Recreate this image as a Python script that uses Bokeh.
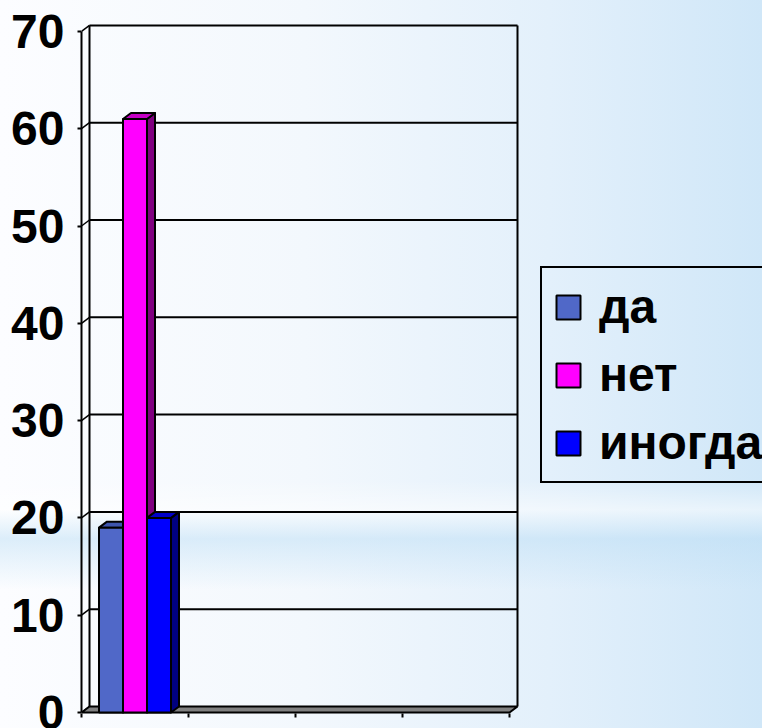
from bokeh.plotting import figure
from bokeh.models import Legend, LegendItem, FixedTicker, Range1d
from bokeh.embed import file_html
from bokeh.resources import INLINE

# ---- data ----
n_slots = 4                       # category slots on the x axis (only first is filled)
series_names = ["да", "нет", "иногда"]
da_values = [19]
net_values = [61]
inogda_values = [20]
y_ticks = [0, 10, 20, 30, 40, 50, 60, 70]
y_max = 70

# ---- style ----
FRONT = ["#5068C8", "#FF00FF", "#0000FF"]
TOP = ["#3E55AE", "#C400C4", "#0000C8"]
SIDE = ["#2B3B86", "#800080", "#000080"]
PX_PER_SLOT = 107.0
PX_PER_UNIT = 9.73
DEPTH_X_PX, DEPTH_Y_PX = 8.0, 6.0
BAR_PX = 24.0
W, H = 762, 728
LEFT, TOP_B, BOTTOM = 81, 23, 13

dx = DEPTH_X_PX / PX_PER_SLOT
dy = DEPTH_Y_PX / PX_PER_UNIT
bar_w = BAR_PX / PX_PER_SLOT

frame_w = W - LEFT
frame_h = H - TOP_B - BOTTOM
x_end = frame_w / PX_PER_SLOT
y_start = -3 / PX_PER_UNIT
y_end = y_start + frame_h / PX_PER_UNIT

p = figure(frame_width=frame_w, frame_height=frame_h,
           x_range=Range1d(0, x_end), y_range=Range1d(y_start, y_end),
           output_backend="svg", toolbar_location=None,
           min_border_left=LEFT, min_border_right=0, min_border_top=TOP_B, min_border_bottom=BOTTOM)
p.background_fill_alpha = 0
p.border_fill_alpha = 0
p.outline_line_color = None
p.xgrid.visible = False
p.ygrid.visible = False

FONT = "Liberation Sans"

# y axis (front edge)
ya = p.yaxis[0]
ya.ticker = FixedTicker(ticks=y_ticks)
ya.bounds = (0, y_max)
ya.axis_line_width = 2
ya.axis_line_color = "black"
ya.major_tick_out = 4
ya.major_tick_in = 0
ya.major_tick_line_width = 2
ya.minor_tick_line_color = None
ya.major_label_text_font = FONT
ya.major_label_text_font_style = "bold"
ya.major_label_text_font_size = "48px"
ya.major_label_text_color = "black"
ya.major_label_standoff = 13

# x axis (only ticks, no labels)
xa = p.xaxis[0]
slot_edges = list(range(n_slots + 1))
xa.ticker = FixedTicker(ticks=slot_edges)
xa.bounds = (0, n_slots)
xa.axis_line_color = None
xa.major_tick_out = 2
xa.major_tick_in = 2
xa.major_tick_line_width = 2
xa.minor_tick_line_color = None
xa.major_label_overrides = {t: "" for t in slot_edges}
xa.major_label_standoff = 0

# back wall gridlines
grid_ticks = [t for t in y_ticks if t > 0]
p.segment(x0=[dx] * len(grid_ticks), x1=[n_slots + dx] * len(grid_ticks),
          y0=[t + dy for t in grid_ticks], y1=[t + dy for t in grid_ticks],
          line_color="black", line_width=2)
# side wall diagonals
p.segment(x0=[0] * len(y_ticks), x1=[dx] * len(y_ticks),
          y0=y_ticks, y1=[t + dy for t in y_ticks],
          line_color="black", line_width=1.5)
# back wall verticals
p.segment(x0=[dx, n_slots + dx], x1=[dx, n_slots + dx],
          y0=[dy, dy], y1=[y_max + dy, y_max + dy],
          line_color="black", line_width=2)
# floor
p.patch([0, n_slots, n_slots + dx, dx], [0, 0, dy, dy],
        fill_color="#808080", line_color="black", line_width=2)

values = [da_values[0], net_values[0], inogda_values[0]]
items = []
center = 0.5
for i, (name, v) in enumerate(zip(series_names, values)):
    xc = center + (i - 1) * bar_w
    l, r = xc - bar_w / 2, xc + bar_w / 2
    p.patch([r, r + dx, r + dx, r], [0, dy, v + dy, v],
            fill_color=SIDE[i], line_color="black", line_width=2, line_join="round")
    p.patch([l, l + dx, r + dx, r], [v, v + dy, v + dy, v],
            fill_color=TOP[i], line_color="black", line_width=2, line_join="round")
    rr = p.quad(left=[l], right=[r], bottom=[0], top=[v],
                fill_color=FRONT[i], line_color="black", line_width=2)
    items.append(LegendItem(label=name, renderers=[rr]))

legend = Legend(items=items, location=(540 - LEFT, 232))
legend.border_line_color = "black"
legend.border_line_alpha = 1.0
legend.border_line_width = 2
legend.background_fill_alpha = 0
legend.label_text_font = FONT
legend.label_text_font_style = "bold"
legend.label_text_font_size = "48px"
legend.label_text_color = "black"
legend.glyph_width = 30
legend.glyph_height = 30
legend.label_standoff = 16
legend.padding = 11
legend.spacing = 13
legend.margin = 0
p.add_layout(legend)

html = file_html(p, INLINE, title="chart")
css = """<style>
html { height: 100%; overflow: hidden; }
body { min-height: 100%; margin: 0; overflow: hidden;
  background:
    linear-gradient(180deg, rgba(255,255,255,0) 0%, rgba(255,255,255,0) 66%,
        rgba(255,255,255,0.5) 70%, rgba(188,222,245,0.5) 74%, rgba(255,255,255,0) 81%, rgba(255,255,255,0) 100%),
    linear-gradient(90deg, #fcfdff 0%, #f3f8fd 40%, #e3f0fb 72%, #d0e7f8 100%);
  background-attachment: fixed; }
</style></head>"""
html = html.replace("</head>", css, 1)
open("out.html", "w").write(html)
